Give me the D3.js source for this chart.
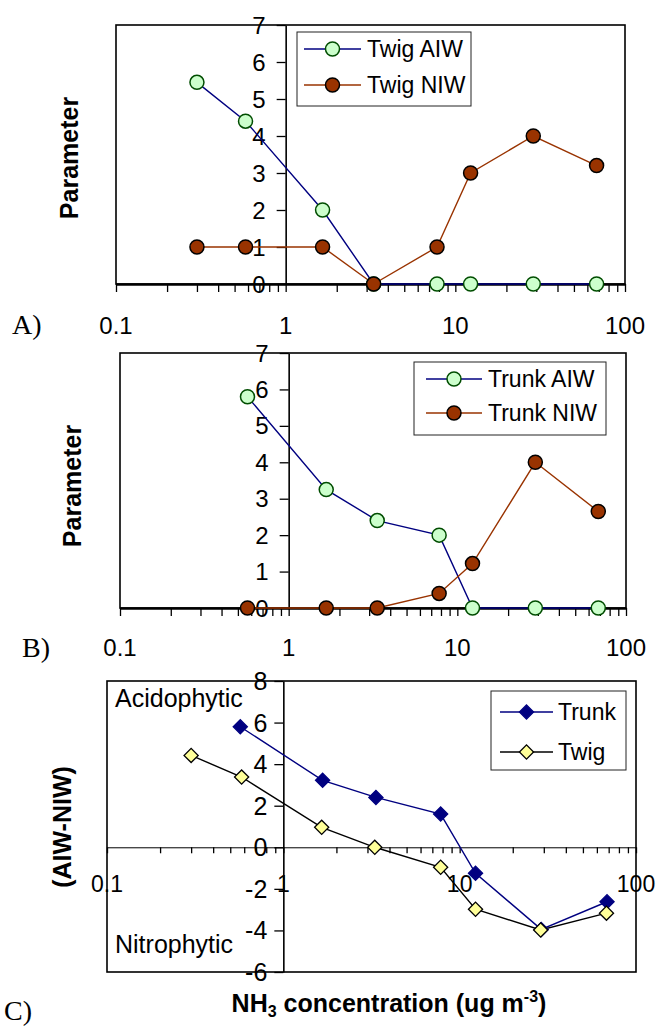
<!DOCTYPE html>
<html><head><meta charset="utf-8">
<script src="https://cdn.jsdelivr.net/npm/d3@7/dist/d3.min.js"></script>
<style>body{margin:0;background:#fff}text{font-family:"Liberation Sans",Arial,sans-serif}</style>
</head><body><svg id="c" width="658" height="1028"></svg>
<script>
// ---- data ----
const xTwig = [0.3, 0.58, 1.65, 3.3, 7.8, 12.3, 28.8, 68];
const xTrunk = [0.57, 1.67, 3.35, 7.8, 12.3, 29, 68.5];
const twigAIW = [5.45, 4.4, 2.0, 0, 0, 0, 0, 0];
const twigNIW = [1, 1, 1, 0, 1, 3, 4, 3.2];
const trunkAIW = [5.8, 3.25, 2.4, 2.0, 0, 0, 0];
const trunkNIW = [0, 0, 0, 0.4, 1.22, 4.0, 2.65];
const trunkDiff = [5.8, 3.22, 2.4, 1.6, -1.25, -3.95, -2.62];
const twigDiff = [4.42, 3.38, 0.96, 0, -0.96, -2.98, -3.98, -3.17];
const xTickLabels = [0.1, 1, 10, 100];
const yTicksAB = [0, 1, 2, 3, 4, 5, 6, 7];
const yTicksC = [-6, -4, -2, 0, 2, 4, 6, 8];
const legendA = ["Twig AIW", "Twig NIW"];
const legendB = ["Trunk AIW", "Trunk NIW"];
const legendC = ["Trunk", "Twig"];

const svg = d3.select("#c");
const zip = (xs, ys) => xs.map((v, i) => [v, ys[i]]);

const styles = {
  aiw: {line: "#000080", fill: "#ccffcc", stroke: "#004d00", shape: "circle"},
  niw: {line: "#993300", fill: "#993300", stroke: "#000", shape: "circle"},
  trunk: {line: "#000080", fill: "#000080", stroke: "#000080", shape: "diamond"},
  twig: {line: "#000", fill: "#ffff99", stroke: "#000", shape: "diamond"}
};

function marker(g, st, cx, cy) {
  if (st.shape === "circle") {
    g.append("circle").attr("cx", cx).attr("cy", cy).attr("r", 7)
      .attr("fill", st.fill).attr("stroke", st.stroke).attr("stroke-width", 1.5);
  } else {
    g.append("path").attr("d", d3.symbol(d3.symbolSquare, 100)())
      .attr("transform", `translate(${cx},${cy}) rotate(45)`)
      .attr("fill", st.fill).attr("stroke", st.stroke).attr("stroke-width", 1.3);
  }
}

function panel(o) {
  const g = svg.append("g");
  const x = d3.scaleLog().domain([0.1, 100]).range([o.x0, o.x1]);
  const y = d3.scaleLinear().domain(o.yDomain).range([o.y1, o.y0]);
  g.append("rect").attr("x", o.x0).attr("y", o.y0)
    .attr("width", o.x1 - o.x0).attr("height", o.y1 - o.y0)
    .attr("fill", "#fff").attr("stroke", "#000").attr("stroke-width", 1.6);
  const xa = g.append("g").attr("transform", `translate(0,${y(0)})`)
    .call(d3.axisBottom(x).tickValues(x.ticks()).tickSize(o.xTickSize).tickSizeOuter(0).tickFormat(""));
  xa.select(".domain").attr("stroke-width", o.xAxisW);
  xa.selectAll(".tick line").attr("stroke-width", 1.3);
  const ya = g.append("g").attr("transform", `translate(${x(1)},0)`)
    .call(d3.axisLeft(y).tickValues(o.yTicks).tickSize(9).tickSizeOuter(0).tickFormat(""));
  ya.select(".domain").attr("stroke-width", 1.6);
  ya.selectAll(".tick line").attr("stroke-width", 1.3);
  g.selectAll(".ylab").data(o.yTicks).join("text")
    .attr("x", x(1) - o.yLabOff).attr("y", d => y(d)).attr("dy", "0.36em")
    .attr("text-anchor", "end").attr("font-size", o.yFont).text(d => d);
  g.selectAll(".xlab").data(xTickLabels).join("text")
    .attr("x", d => x(d)).attr("y", y(0) + o.xLabDy).attr("dy", "0.36em")
    .attr("text-anchor", "middle").attr("font-size", o.xFont).text(d => d);
  const line = d3.line().x(d => x(d[0])).y(d => y(d[1]));
  o.series.forEach(s => {
    g.append("path").datum(zip(s.x, s.y)).attr("d", line)
      .attr("fill", "none").attr("stroke", s.st.line).attr("stroke-width", 1.4);
  });
  o.series.forEach(s => {
    zip(s.x, s.y).forEach(d => marker(g, s.st, x(d[0]), y(d[1])));
  });
  const L = o.legend;
  g.append("rect").attr("x", L.x).attr("y", L.y).attr("width", L.w).attr("height", L.h)
    .attr("fill", "#fff").attr("stroke", "#222").attr("stroke-width", 1);
  o.series.forEach((s, i) => {
    const ry = L.y + L.r0 + i * L.dr;
    g.append("line").attr("x1", L.x + L.l0).attr("x2", L.x + L.l1).attr("y1", ry).attr("y2", ry)
      .attr("stroke", s.st.line).attr("stroke-width", 1.4);
    marker(g, s.st, L.x + (L.l0 + L.l1) / 2, ry);
    g.append("text").attr("x", L.x + L.tx).attr("y", ry).attr("dy", "0.36em")
      .attr("font-size", 23).text(s.name);
  });
  g.append("text").attr("transform", `translate(${o.yTitleX},${o.yTitleY}) rotate(-90)`)
    .attr("text-anchor", "middle").attr("font-size", 25).attr("font-weight", "bold").text(o.yTitle);
  g.append("text").attr("x", o.letterX).attr("y", o.letterY)
    .style("font-family", "'Liberation Serif','Times New Roman',serif")
    .attr("font-size", 28).text(o.letter);
  return {g, x, y};
}

panel({
  x0: 116, x1: 625, y0: 25, y1: 284, yDomain: [0, 7], yTicks: yTicksAB,
  xTickSize: 8, xAxisW: 2.5, yLabOff: 20, yFont: 24, xFont: 24, xLabDy: 41,
  series: [
    {name: legendA[0], x: xTwig, y: twigAIW, st: styles.aiw},
    {name: legendA[1], x: xTwig, y: twigNIW, st: styles.niw}
  ],
  legend: {x: 297, y: 32, w: 174, h: 74, r0: 17, dr: 36, l0: 7, l1: 64, tx: 70},
  yTitle: "Parameter", yTitleX: 78, yTitleY: 158,
  letter: "A)", letterX: 12, letterY: 334
});

panel({
  x0: 120, x1: 626, y0: 353, y1: 608, yDomain: [0, 7], yTicks: yTicksAB,
  xTickSize: 8, xAxisW: 2.5, yLabOff: 20, yFont: 24, xFont: 24, xLabDy: 39,
  series: [
    {name: legendB[0], x: xTrunk, y: trunkAIW, st: styles.aiw},
    {name: legendB[1], x: xTrunk, y: trunkNIW, st: styles.niw}
  ],
  legend: {x: 414, y: 362, w: 192, h: 73, r0: 17, dr: 34, l0: 12, l1: 68, tx: 74},
  yTitle: "Parameter", yTitleX: 81, yTitleY: 486,
  letter: "B)", letterX: 22, letterY: 657
});

const pc = panel({
  x0: 107, x1: 636, y0: 681, y1: 972, yDomain: [-6, 8], yTicks: yTicksC,
  xTickSize: 6, xAxisW: 1, yLabOff: 16, yFont: 25, xFont: 23, xLabDy: 36,
  series: [
    {name: legendC[0], x: xTrunk, y: trunkDiff, st: styles.trunk},
    {name: legendC[1], x: xTwig, y: twigDiff, st: styles.twig}
  ],
  legend: {x: 491, y: 691, w: 135, h: 79, r0: 21, dr: 40, l0: 9, l1: 62, tx: 67},
  yTitle: "(AIW-NIW)", yTitleX: 71, yTitleY: 827,
  letter: "C)", letterX: 4, letterY: 1020
});

pc.g.append("text").attr("x", 115).attr("y", 707).attr("font-size", 25).text("Acidophytic");
pc.g.append("text").attr("x", 115).attr("y", 953).attr("font-size", 25).text("Nitrophytic");

const xt = svg.append("text").attr("x", 389).attr("y", 1012).attr("text-anchor", "middle")
  .attr("font-size", 25).attr("font-weight", "bold");
xt.append("tspan").text("NH");
xt.append("tspan").attr("font-size", 16).attr("dy", 5).text("3");
xt.append("tspan").attr("dy", -5).text(" concentration (ug m");
xt.append("tspan").attr("font-size", 16).attr("dy", -10).text("-3");
xt.append("tspan").attr("dy", 10).text(")");
</script>
</body></html>
